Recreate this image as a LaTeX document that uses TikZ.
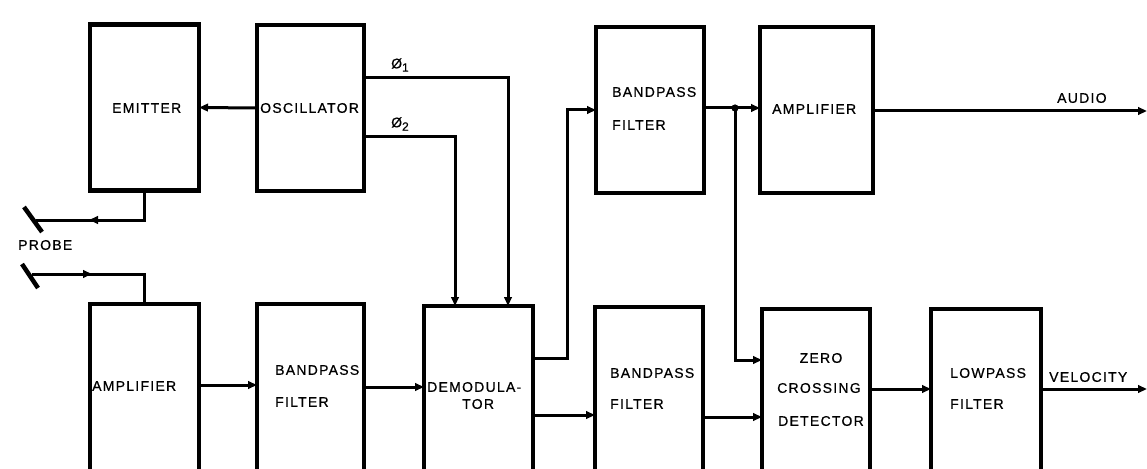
\documentclass[tikz,border=0pt]{standalone}
\usepackage{fontspec}
\setmainfont{Liberation Sans}
\newfontfamily\lblfont[LetterSpace=9,FakeBold=0.6]{Liberation Sans}
\usetikzlibrary{arrows.meta,decorations.markings,calc}
\begin{document}
\begin{tikzpicture}[x=1pt,y=-1pt,
  box/.style={draw, line width=4.2pt, inner sep=0pt, outer sep=0pt},
  topbox/.style={box, minimum height=166pt},
  botbox/.style={box, minimum height=200pt},
  tip/.style={-{Triangle[length=9pt,width=7.5pt]}},
  wire/.style={line width=3pt},
  conn/.style={wire, tip},
  lbl/.style={font=\lblfont\fontsize{14}{16}\selectfont, inner sep=0pt, anchor=west},
  midarr/.style={postaction={decorate}, decoration={markings,
     mark=at position #1 with {\arrow{Triangle[length=9pt,width=7.5pt]}}}},
  probe/.style={line width=4.5pt}
]
\useasboundingbox (0,0) rectangle (1147,468);
\clip (0,0) rectangle (1147,468);
\fill[white] (0,0) rectangle (1147,468);

% top row boxes
\node[topbox, minimum width=109pt] (emit) at (144.5,107.5) {};
\node[topbox, minimum width=107pt] (osc)  at (310.5,108) {};
\node[topbox, minimum width=108pt] (bp1)  at (650,110) {};
\node[topbox, minimum width=113pt] (amp1) at (816.5,110) {};

% bottom row boxes (cut by the lower edge)
\node[botbox, minimum width=109pt, anchor=north] (amp2)  at (144.5,304) {};
\node[botbox, minimum width=107pt, anchor=north] (bp2)   at (310.5,304) {};
\node[botbox, minimum width=109pt, anchor=north] (demod) at (478.5,306) {};
\node[botbox, minimum width=108pt, anchor=north] (bp3)   at (649,307) {};
\node[botbox, minimum width=108pt, anchor=north] (zcd)   at (816,309) {};
\node[botbox, minimum width=110pt, anchor=north] (lp)    at (986,309) {};

% labels
\node[lbl] (temit) at (112,108) {EMITTER};
\node[lbl] (tosc) at (260,108) {OSCILLATOR};
\node[lbl] (tbp1a) at (612,92) {BANDPASS};
\node[lbl] (tbp1b) at (612,125) {FILTER};
\node[lbl] (tamp1) at (772,109) {AMPLIFIER};
\node[lbl] (taudio) at (1057,98) {AUDIO};
\node[lbl] (tprobe) at (18,245) {PROBE};
\node[lbl] (tamp2) at (92,386) {AMPLIFIER};
\node[lbl] (tbp2a) at (275,370) {BANDPASS};
\node[lbl] (tbp2b) at (275,402) {FILTER};
\node[lbl] (tdem1) at (427,387) {DEMODULA-};
\node[lbl] (tdem2) at (462,404) {TOR};
\node[lbl] (tbp3a) at (610,373) {BANDPASS};
\node[lbl] (tbp3b) at (610,404) {FILTER};
\node[lbl, anchor=center] (tzc1) at (821,358) {ZERO};
\node[lbl] (tzc2) at (777,388) {CROSSING};
\node[lbl] (tzc3) at (778,421) {DETECTOR};
\node[lbl] (tlp1) at (950,373) {LOWPASS};
\node[lbl] (tlp2) at (950,404) {FILTER};
\node[lbl] (tvel) at (1049,377) {VELOCITY};
\node[lbl] (tph1) at (391,65) {Ø\textsubscript{\fontsize{12}{12}\selectfont 1}};
\node[lbl] (tph2) at (391,124) {Ø\textsubscript{\fontsize{12}{12}\selectfont 2}};

% probe
\coordinate (pr1a) at (24,207);
\coordinate (pr1b) at (42,232);
\coordinate (pr2a) at (22,264);
\coordinate (pr2b) at (38,288);
\draw[probe] (pr1a) -- (pr1b);
\draw[probe] (pr2a) -- (pr2b);
\coordinate (pr1) at (36,220);
\coordinate (pr2) at (32,274);

% helper coordinates for wire rows
\coordinate (yph1) at (0,78);
\coordinate (yph2) at (0,136);
\coordinate (xph1) at (508,0);
\coordinate (xph2) at (455,0);
\coordinate (r385) at (0,385);
\coordinate (r387) at (0,387);
\coordinate (r358) at (0,358);
\coordinate (r415) at (0,415);
\coordinate (r417) at (0,417);
\coordinate (r389) at (0,389);
\coordinate (r360) at (0,360);
\coordinate (xup) at (567,0);
\coordinate (junc) at (735,108);
\coordinate (audioend) at (1147,111);
\coordinate (velend) at (1147,389);

% connectors
\draw[conn] (osc.west) -- (emit.east);
\draw[wire, midarr=85pt] (emit.south) |- (pr1);
\draw[wire, midarr=60pt] (pr2) -| (amp2.north);
\draw[conn] (amp2.east |- r385) -- (bp2.west |- r385);
\draw[conn] (bp2.east |- r387) -- (demod.west |- r387);
\draw[conn] (osc.east |- yph1) -| (demod.north -| xph1);
\draw[conn] (osc.east |- yph2) -| (demod.north -| xph2);
\draw[conn] (demod.east |- r358) -| (xup |- bp1.west) -- (bp1.west);
\draw[conn] (demod.east |- r415) -- (bp3.west |- r415);
\draw[conn] (bp1.east |- junc) -- (amp1.west |- junc);
\fill (junc) circle (3.6pt);
\draw[conn] (junc) |- (zcd.west |- r360);
\draw[conn] (bp3.east |- r417) -- (zcd.west |- r417);
\draw[conn] (zcd.east |- r389) -- (lp.west |- r389);
\draw[conn] (lp.east |- velend) -- (velend);
\draw[conn] (amp1.east |- audioend) -- (audioend);
\end{tikzpicture}
\end{document}
